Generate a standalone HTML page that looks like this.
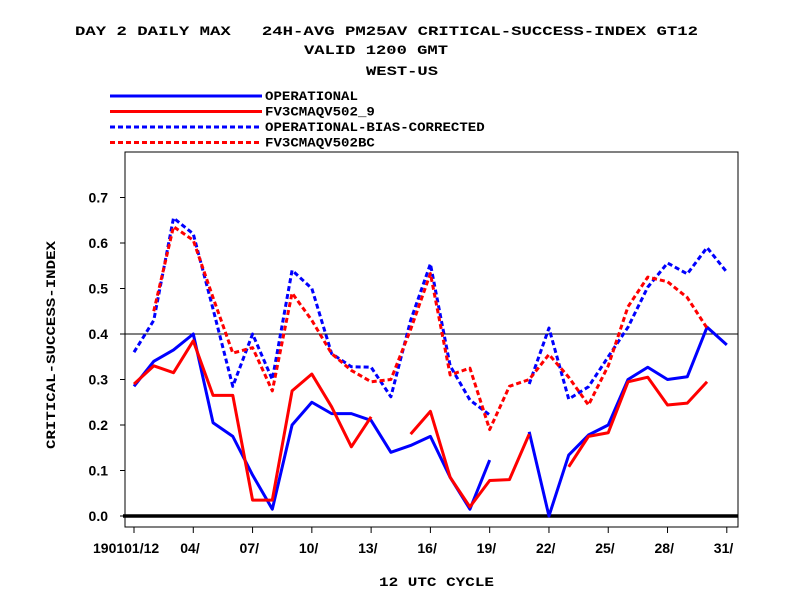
<!DOCTYPE html>
<html><head><meta charset="utf-8"><style>
body{margin:0;background:#fff}
svg{display:block}
text{font-family:"Liberation Sans",sans-serif;font-weight:bold;fill:#000}
.t{font-family:"Liberation Mono",monospace;font-size:13px;white-space:pre}
</style></head><body>
<svg id="chart" width="792" height="612" viewBox="0 0 792 612">
<g>
<text class="t" xml:space="preserve" x="75" y="35" textLength="623" lengthAdjust="spacingAndGlyphs">DAY 2 DAILY MAX   24H-AVG PM25AV CRITICAL-SUCCESS-INDEX GT12</text>
<text class="t" x="304" y="54" textLength="144" lengthAdjust="spacingAndGlyphs">VALID 1200 GMT</text>
<text class="t" x="366" y="75" textLength="72" lengthAdjust="spacingAndGlyphs">WEST-US</text>
</g>
<g id="legend"></g>
<rect x="125" y="152" width="613" height="375" fill="none" stroke="#000" stroke-width="1"/>
<g id="axes"></g>
<g id="series"></g>
<text class="t" transform="translate(55,345) rotate(-90)" text-anchor="middle" textLength="208" lengthAdjust="spacingAndGlyphs">CRITICAL-SUCCESS-INDEX</text>
<text class="t" x="379" y="586" textLength="115" lengthAdjust="spacingAndGlyphs">12 UTC CYCLE</text>
</svg>
<script>
const days=[1,2,3,4,5,6,7,8,9,10,11,12,13,14,15,16,17,18,19,20,21,22,23,24,25,26,27,28,29,30,31];
const xTickDays=[1,4,7,10,13,16,19,22,25,28,31];
const xTickLabels=["190101/12","04/","07/","10/","13/","16/","19/","22/","25/","28/","31/"];
const yTicks=[0,0.1,0.2,0.3,0.4,0.5,0.6,0.7];
const seriesNames=["OPERATIONAL","FV3CMAQV502_9","OPERATIONAL-BIAS-CORRECTED","FV3CMAQV502BC"];
const operational=[0.285,0.34,0.365,0.40,0.205,0.175,0.09,0.015,0.20,0.25,0.225,0.225,0.21,0.14,0.155,0.175,0.085,0.015,0.123,null,0.185,0.0,0.134,0.178,0.20,0.30,0.327,0.30,0.306,0.415,0.376];
const fv3=[0.29,0.33,0.315,0.385,0.265,0.265,0.035,0.035,0.275,0.312,0.24,0.152,0.218,null,0.18,0.23,0.085,0.02,0.078,0.08,0.18,null,0.108,0.175,0.183,0.295,0.305,0.244,0.248,0.295,null];
const opBC=[0.36,0.43,0.655,0.62,0.455,0.285,0.40,0.30,0.54,0.50,0.357,0.328,0.327,0.262,0.43,0.554,0.33,0.255,0.222,null,0.29,0.413,0.257,0.284,0.35,0.415,0.503,0.556,0.532,0.59,0.536];
const fv3BC=[null,0.45,0.636,0.606,0.48,0.358,0.37,0.275,0.49,0.43,0.357,0.32,0.295,0.30,0.41,0.533,0.31,0.325,0.19,0.285,0.30,0.355,0.305,0.244,0.33,0.46,0.525,0.515,0.48,0.413,null];

const NS="http://www.w3.org/2000/svg";
const X=d=>134+(d-1)*19.76;
const Y=v=>516-v*455;
function mk(tag,attrs,parent){const e=document.createElementNS(NS,tag);for(const k in attrs)e.setAttribute(k,attrs[k]);parent.appendChild(e);return e;}
const axes=document.getElementById('axes');
yTicks.forEach(v=>{
  const t=mk('line',{x1:120,x2:125,y1:Y(v),y2:Y(v),stroke:'#000'},axes);
  
  
  const l=mk('text',{x:108,y:Y(v)+5,'text-anchor':'end','font-size':'14'},axes);
  l.textContent=v.toFixed(1);
  
  
});
xTickDays.forEach((d,i)=>{
  const t=mk('line',{x1:X(d),x2:X(d),y1:527,y2:533,stroke:'#000'},axes);
  
  
  const l=mk('text',{x:i==0?93:X(d)-13,y:553,'font-size':'14'},axes);
  l.textContent=xTickLabels[i];
  
  
});
const ref=mk('line',{x1:125,x2:738,y1:Y(0.4),y2:Y(0.4),stroke:'#000','stroke-width':1},axes);


const zero=mk('line',{x1:123,x2:738,y1:Y(0),y2:Y(0),stroke:'#000','stroke-width':3.5},axes);



const styles=[{c:'#0000ff',d:null,k:'operational'},{c:'#ff0000',d:null,k:'fv3cmaqv502-9'},{c:'#0000ff',d:'5,3',k:'operational-bias-corrected'},{c:'#ff0000',d:'5,3',k:'fv3cmaqv502bc'}];
const data=[operational,fv3,opBC,fv3BC];
const sg=document.getElementById('series');
data.forEach((arr,si)=>{
  let segs=[],cur=[];
  arr.forEach((v,i)=>{if(v===null){if(cur.length)segs.push(cur);cur=[];}else cur.push([X(days[i]),Y(v)]);});
  if(cur.length)segs.push(cur);
  segs.forEach(s=>{
    const p=mk('polyline',{points:s.map(q=>q.join(',')).join(' '),fill:'none',stroke:styles[si].c,'stroke-width':3,'stroke-linejoin':'round'},sg);
    if(styles[si].d)p.setAttribute('stroke-dasharray',styles[si].d);
    
    
  });
});
const lg=document.getElementById('legend');
seriesNames.forEach((n,i)=>{
  const y=96+i*15.5;
  const l=mk('line',{x1:110,x2:262,y1:y,y2:y,stroke:styles[i].c,'stroke-width':3},lg);
  if(styles[i].d)l.setAttribute('stroke-dasharray',styles[i].d);
  
  
  const t=mk('text',{x:265,y:y+4,'class':'t','font-size':'11',textLength:n.length*8.45,lengthAdjust:'spacingAndGlyphs'},lg);
  t.textContent=n;
  
  
});
</script>
</body></html>
